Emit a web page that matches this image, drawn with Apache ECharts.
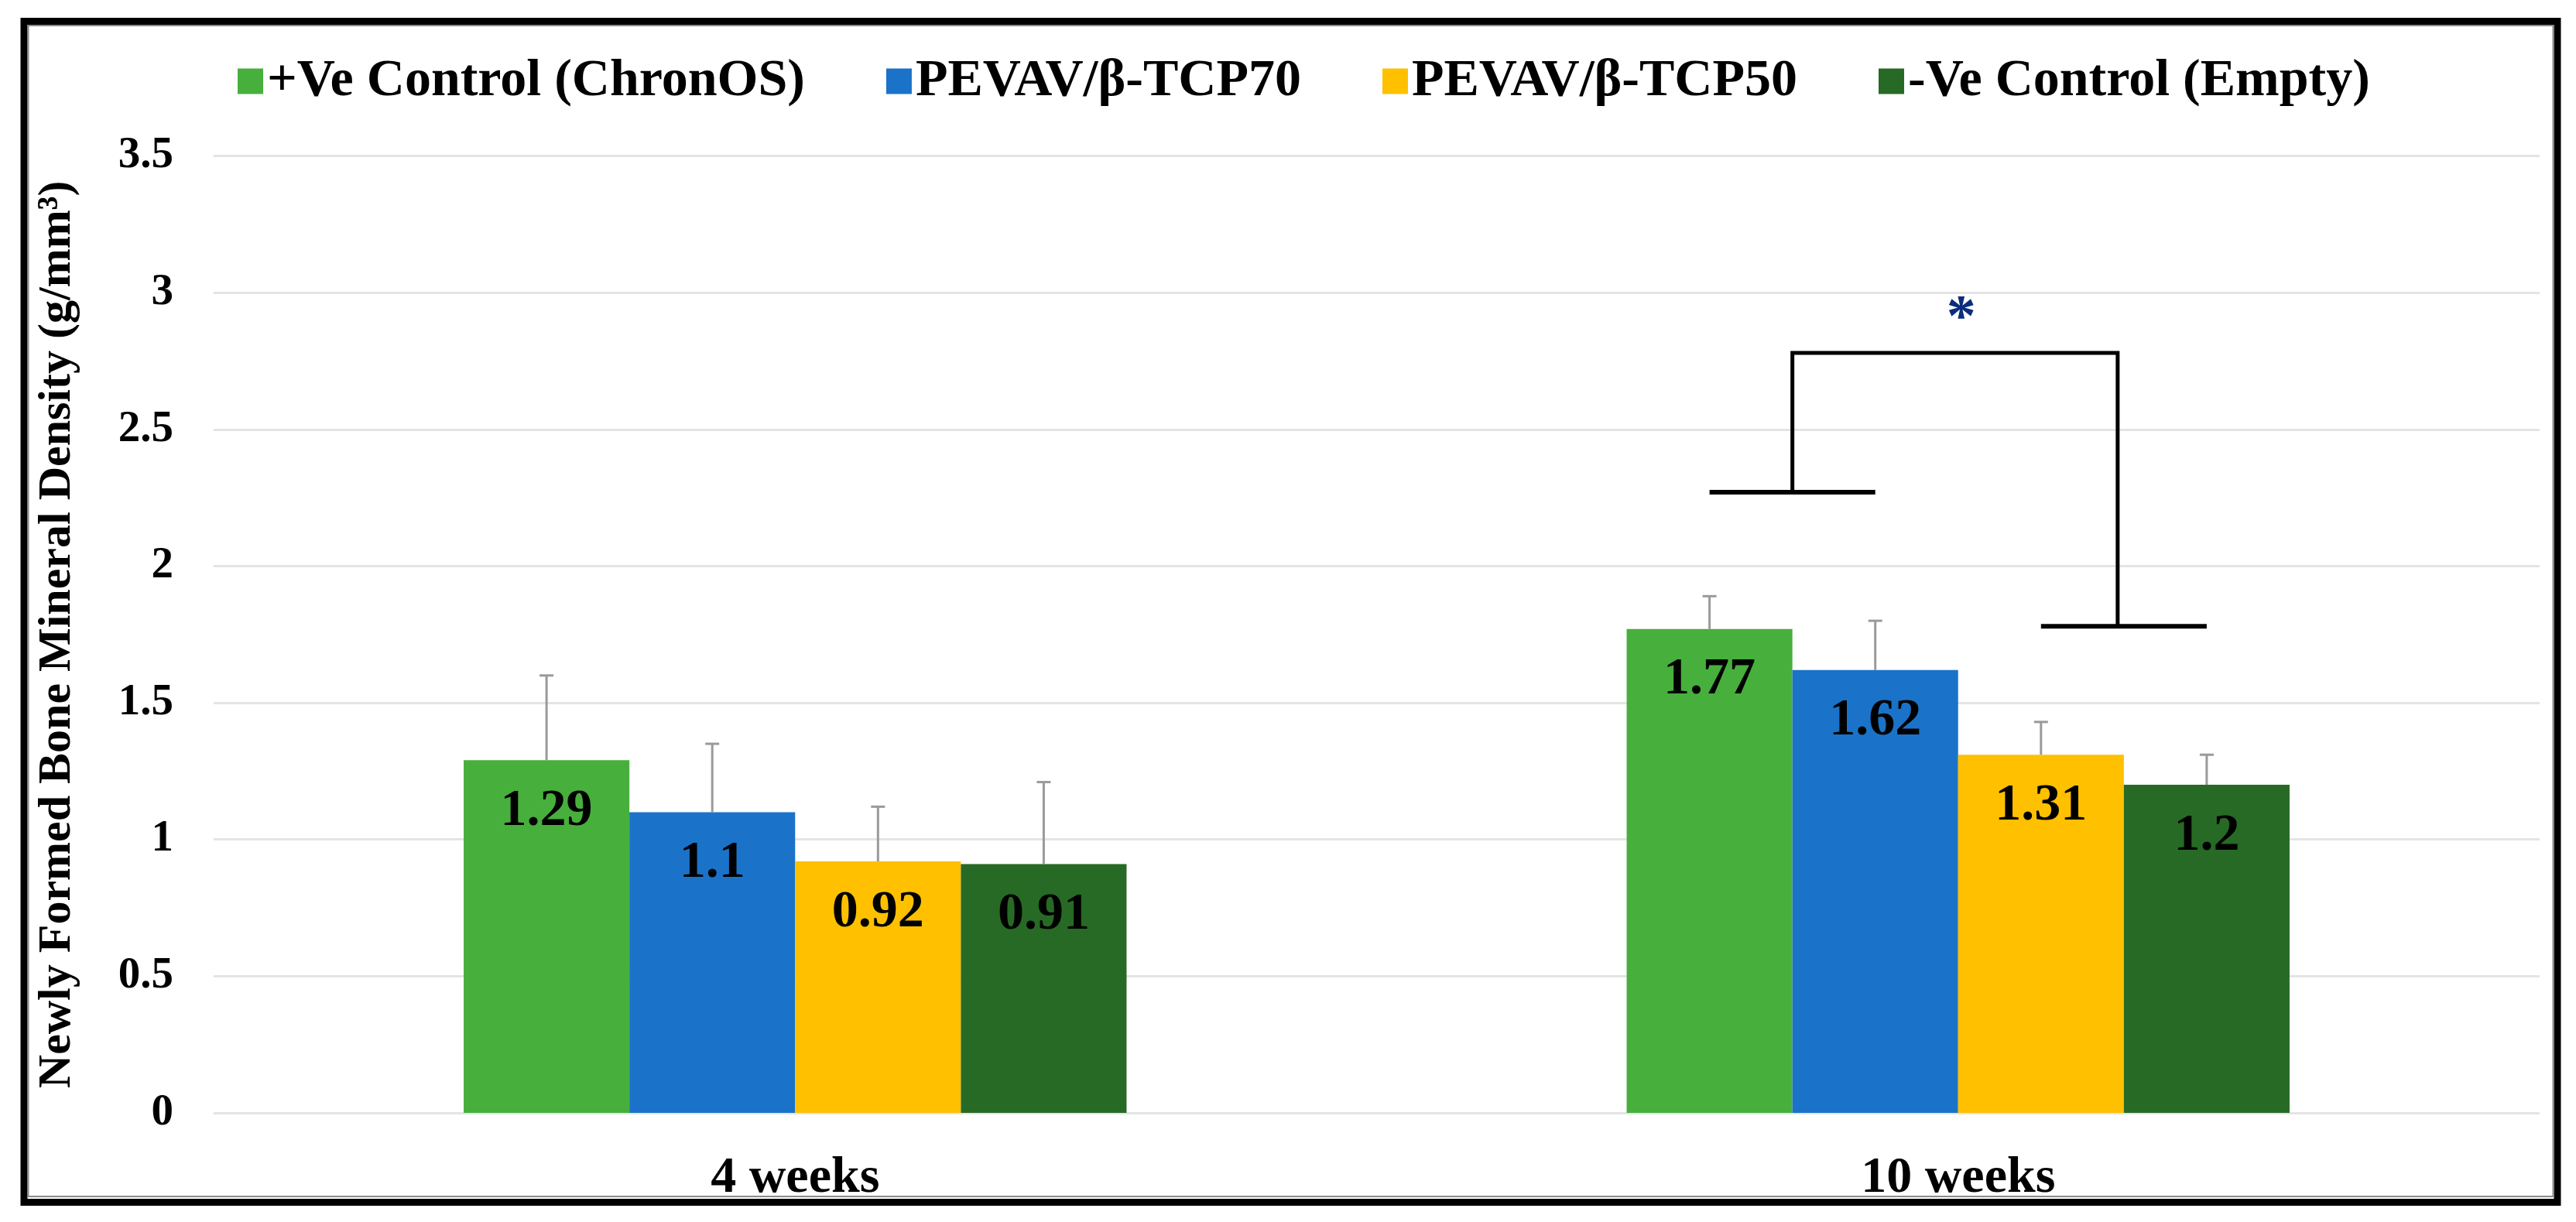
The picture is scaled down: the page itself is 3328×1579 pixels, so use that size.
<!DOCTYPE html>
<html>
<head>
<meta charset="utf-8">
<script src="https://cdn.jsdelivr.net/npm/echarts@6/dist/echarts.min.js"></script>
<style>
html,body{margin:0;padding:0;background:#fff;}
#chart{width:3328px;height:1579px;}
</style>
</head>
<body>
<div id="chart"></div>
<script>
// ---- data ----
const categories = ['4 weeks', '10 weeks'];
const seriesNames = ['+Ve Control (ChronOS)', 'PEVAV/β-TCP70', 'PEVAV/β-TCP50', '-Ve Control (Empty)'];
const positiveControl = [1.29, 1.77];
const tcp70 = [1.1, 1.62];
const tcp50 = [0.92, 1.31];
const negativeControl = [0.91, 1.2];
// standard deviations (upper error bars)
const positiveControlSD = [0.31, 0.12];
const tcp70SD = [0.25, 0.18];
const tcp50SD = [0.20, 0.12];
const negativeControlSD = [0.30, 0.11];
// significance bracket (10 weeks): left arm level, top level, right arm level, star level
const bracketCategory = 1;
const bracketLevels = [2.27, 2.78, 1.78];
const starLevel = 2.90;
const yTicks = [0, 3.5, 0.5]; // min, max, interval

// ---- styling ----
const FONT = '"Liberation Serif", "Times New Roman", serif';
const colors = ['#47AF3C', '#1A73C8', '#FFC000', '#276A25'];
const GAP = 0.43;
const N = 4;

const values = [positiveControl, tcp70, tcp50, negativeControl];
const sds = [positiveControlSD, tcp70SD, tcp50SD, negativeControlSD];

function barCenter(api, cat, s) {
  const c = api.coord([cat, 0]);
  const band = api.size([1, 0])[0];
  const bw = band * (1 - GAP) / N;
  return c[0] + (s - (N - 1) / 2) * bw;
}

function errorRender(s) {
  return function (params, api) {
    const cat = api.value(0);
    const x = barCenter(api, cat, s);
    const y0 = api.coord([cat, api.value(1)])[1];
    const y1 = api.coord([cat, api.value(2)])[1];
    const st = { stroke: '#9a9a9a', lineWidth: 3 };
    return {
      type: 'group',
      children: [
        { type: 'line', shape: { x1: x, y1: y0, x2: x, y2: y1 }, style: st },
        { type: 'line', shape: { x1: x - 9, y1: y1, x2: x + 9, y2: y1 }, style: st }
      ]
    };
  };
}

function bracketRender(params, api) {
  const cat = api.value(0);
  const c = [0, 1, 2, 3].map(s => barCenter(api, cat, s));
  const yL = api.coord([cat, api.value(1)])[1];
  const yT = api.coord([cat, api.value(2)])[1];
  const yR = api.coord([cat, api.value(3)])[1];
  const yS = api.coord([cat, api.value(4)])[1];
  const xl = (c[0] + c[1]) / 2;
  const xr = (c[2] + c[3]) / 2 - 8;
  const st = { stroke: '#000', lineWidth: 5 };
  return {
    type: 'group',
    children: [
      { type: 'line', shape: { x1: c[0], y1: yL, x2: c[1], y2: yL }, style: { stroke: '#000', lineWidth: 6 } },
      { type: 'line', shape: { x1: c[2], y1: yR, x2: c[3], y2: yR }, style: { stroke: '#000', lineWidth: 6 } },
      { type: 'polyline', shape: { points: [[xl, yL], [xl, yT], [xr, yT], [xr, yR]] }, style: Object.assign({ fill: 'none' }, st) },
      { type: 'text', x: (xl + xr) / 2 + 8, y: yS, style: { text: '*', fill: '#0c2d7c', font: 'bold 76px ' + FONT, align: 'center', verticalAlign: 'middle' } }
    ]
  };
}

const series = [];
for (let s = 0; s < N; s++) {
  series.push({
    name: seriesNames[s],
    type: 'bar',
    data: values[s],
    barGap: '0%',
    barCategoryGap: (GAP * 100) + '%',
    itemStyle: { color: colors[s] },
    label: {
      show: true, position: 'insideTop', distance: 32,
      fontSize: 68, fontWeight: 'bold', fontFamily: FONT, color: '#000'
    },
    z: 2
  });
}
for (let s = 0; s < N; s++) {
  series.push({
    type: 'custom',
    renderItem: errorRender(s),
    data: categories.map((c, i) => [i, values[s][i], values[s][i] + sds[s][i]]),
    encode: { x: 0, y: [1, 2] },
    silent: true,
    z: 3
  });
}
series.push({
  type: 'custom',
  renderItem: bracketRender,
  data: [[bracketCategory, bracketLevels[0], bracketLevels[1], bracketLevels[2], starLevel]],
  encode: { x: 0, y: [1, 2, 3, 4] },
  silent: true,
  z: 4
});

const chart = echarts.init(document.getElementById('chart'), null, { renderer: 'canvas' });
chart.setOption({
  backgroundColor: '#fff',
  animation: false,
  color: colors,
  textStyle: { fontFamily: FONT },
  legend: {
    data: seriesNames,
    left: 302, top: 66,
    icon: 'rect', itemWidth: 33, itemHeight: 33, itemGap: 105,
    textStyle: { fontSize: 68, fontWeight: 'bold', fontFamily: FONT, color: '#000' }
  },
  grid: { left: 276, right: 47, top: 201.6, bottom: 141, containLabel: false },
  xAxis: {
    type: 'category', data: categories,
    axisLine: { show: false }, axisTick: { show: false },
    axisLabel: { fontSize: 66, fontWeight: 'bold', fontFamily: FONT, color: '#000', margin: 52 }
  },
  yAxis: {
    type: 'value', min: yTicks[0], max: yTicks[1], interval: yTicks[2],
    name: 'Newly Formed Bone Mineral Density (g/mm³)',
    nameLocation: 'middle', nameGap: 172,
    nameTextStyle: { fontSize: 60, fontWeight: 'bold', fontFamily: FONT, color: '#000', padding: [0, 0, 0, 0] },
    axisLine: { show: false }, axisTick: { show: false },
    axisLabel: { fontSize: 57, fontWeight: 'bold', fontFamily: FONT, color: '#000', margin: 52 },
    splitLine: { lineStyle: { color: '#e4e4e4', width: 3 } }
  },
  graphic: [
    { type: 'rect', shape: { x: 31, y: 27.5, width: 3273, height: 1526 }, style: { fill: 'none', stroke: '#000', lineWidth: 9 }, z: 100 },
    { type: 'rect', shape: { x: 36.5, y: 33, width: 3262, height: 1513 }, style: { fill: 'none', stroke: '#8a8a8a', lineWidth: 2 }, z: 100 }
  ],
  series: series
});
</script>
</body>
</html>
